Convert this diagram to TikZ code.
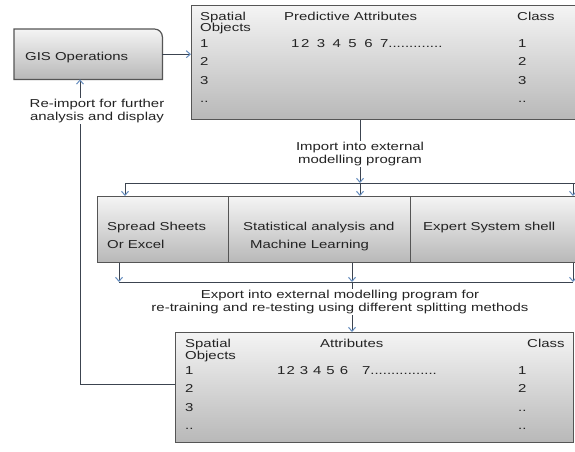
\documentclass[tikz,border=0pt]{standalone}
\usepackage{fontspec}
\setmainfont{Liberation Sans}[FakeStretch=1.3]
\usetikzlibrary{arrows.meta}

\begin{document}
\begin{tikzpicture}[x=1pt,y=-1pt,
        font=\fontsize{11.5}{12.5}\selectfont,
        panel/.style={draw=boxline, line width=1.2pt, top color=boxtop, bottom color=boxbot,
            inner sep=0pt, anchor=north west},
        txt/.style={text=txtc, inner sep=0pt, anchor=base west},
        note/.style={text=txtc, align=center, inner sep=1.5pt},
        wire/.style={draw=linec, line width=1pt},
        arr/.style={wire, -{Straight Barb[length=4pt,width=7pt,color=tipc]}}]
    % Define colors
    \definecolor{boxtop}{RGB}{244,244,244}
    \definecolor{boxbot}{RGB}{184,184,184}
    \definecolor{boxline}{RGB}{85,85,85}
    \definecolor{txtc}{RGB}{35,35,35}
    \definecolor{linec}{RGB}{60,68,80}
    \definecolor{tipc}{RGB}{100,140,190}

    \useasboundingbox[fill=white] (0,0) rectangle (575,451);

    % GIS box, one rounded corner
    \node[inner sep=0pt, anchor=north west, minimum width=148pt, minimum height=50pt] (gis) at (14,29) {};
    \path[draw=boxline, line width=1.2pt, top color=boxtop, bottom color=boxbot]
        (gis.south west) -- (gis.north west) -- ([xshift=-8pt]gis.north east)
        arc[start angle=90, end angle=0, radius=8pt] -- (gis.south east) -- cycle;
    \node[txt] (gistxt) at (25,60) {GIS Operations};

    % Top table
    \node[panel, minimum width=390pt, minimum height=114pt] (tbla) at (191,5) {};
    \node[txt] (aspat) at (200,20) {Spatial};
    \node[txt] (aobj) at (200,31) {Objects};
    \node[txt] (ahead) at (284,20) {Predictive Attributes};
    \node[txt] (aclass) at (517,20) {Class};
    \node[txt] (arow1) at (200,47) {1};
    \node[txt] (arow2) at (200,65) {2};
    \node[txt] (arow3) at (200,84) {3};
    \node[txt] (arow4) at (200,102) {..};
    \node[txt] (avals) at (291,47) {1\hspace{1.5pt}2\hspace{7.5pt}3\hspace{7.5pt}4\hspace{7.5pt}5\hspace{7.5pt}6\hspace{7.5pt}7.............};
    \node[txt] (acls1) at (518,47) {1};
    \node[txt] (acls2) at (518,65) {2};
    \node[txt] (acls3) at (518,84) {3};
    \node[txt] (acls4) at (518,102) {..};

    % Modelling programs
    \node[panel, minimum width=131pt, minimum height=66pt] (sheet) at (97,196) {};
    \node[panel, minimum width=182pt, minimum height=66pt] (stat) at (228,196) {};
    \node[panel, minimum width=171pt, minimum height=66pt] (expert) at (410,196) {};
    \node[txt] (sheet1) at (107,230) {Spread Sheets};
    \node[txt] (sheet2) at (107,248) {Or Excel};
    \node[txt] (stat1) at (243,230) {Statistical analysis and};
    \node[txt] (stat2) at (250,248) {Machine Learning};
    \node[txt] (expert1) at (423,230) {Expert System shell};

    % Bottom table
    \node[panel, minimum width=398pt, minimum height=110pt] (tblb) at (175,332) {};
    \node[txt] (bspat) at (185,347) {Spatial};
    \node[txt] (bobj) at (185,359) {Objects};
    \node[txt] (bhead) at (320,347) {Attributes};
    \node[txt] (bclass) at (527,347) {Class};
    \node[txt] (brow1) at (185,374) {1};
    \node[txt] (brow2) at (185,392) {2};
    \node[txt] (brow3) at (185,411) {3};
    \node[txt] (brow4) at (185,429) {..};
    \node[txt] (bvals) at (277,374) {1\hspace{1pt}2\hspace{5pt}3\hspace{5pt}4\hspace{5pt}5\hspace{5pt}6\hspace{14pt}7................};
    \node[txt] (bcls1) at (518,374) {1};
    \node[txt] (bcls2) at (518,392) {2};
    \node[txt] (bcls3) at (518,411) {..};
    \node[txt] (bcls4) at (518,429) {..};

    % Labels on the connectors
    \node[note] (imp) at (360,154) {Import into external\\modelling program};
    \node[note] (expo) at (340,302) {Export into external modelling program for\\re-training and re-testing using different splitting methods};
    \node[note] (reimp) at (97,111) {Re-import for further\\analysis and display};

    % Bus points
    \coordinate (ta) at (125,183);
    \coordinate (tb) at (360,183);
    \coordinate (tc) at (573,183);
    \coordinate (te) at (581,183);
    \coordinate (ba) at (119,282);
    \coordinate (bb) at (352,282);
    \coordinate (bc) at (573,282);
    \coordinate (lp) at (80,384);

    % Connectors
    \draw[arr] (gis.east) -- (gis.east -| tbla.west);
    \draw[wire] (imp.north |- tbla.south) -- (imp.north);
    \draw[arr] (imp.south) -- (tb);
    \draw[wire] (ta) -- (te);
    \draw[arr] (ta) -- (ta |- sheet.north);
    \draw[arr] (tb) -- (tb |- stat.north);
    \draw[arr] (tc) -- (tc |- expert.north);
    \draw[arr] (ba |- sheet.south) -- (ba);
    \draw[arr] (bb |- stat.south) -- (bb);
    \draw[arr] (bc |- expert.south) -- (bc);
    \draw[wire] (ba) -- (bc);
    \draw[wire] (bb) -- (bb |- expo.north);
    \draw[arr] (bb |- expo.south) -- (bb |- tblb.north);
    \draw[wire] (tblb.west |- lp) -- (lp) -- (lp |- reimp.south);
    \draw[arr] (lp |- reimp.north) -- (lp |- gis.south);
\end{tikzpicture}
\end{document}
